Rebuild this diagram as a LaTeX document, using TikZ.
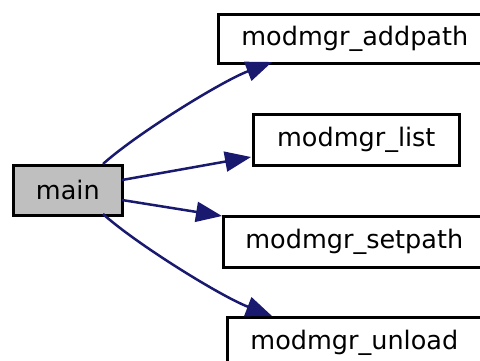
\documentclass[tikz,border=0pt]{standalone}
\usepackage{fontspec}
\setmainfont{DejaVu Sans}
\usetikzlibrary{arrows.meta}
\definecolor{edgeblue}{RGB}{25,25,112}
\definecolor{maingray}{RGB}{191,191,191}
\tikzset{
  fn/.style={draw=black, line width=2.6pt, fill=white, inner sep=0pt, anchor=north west,
    font=\fontsize{25.5}{30}\selectfont, text=black},
  call/.style={draw=edgeblue, line width=2.5pt,
    -{Triangle[length=26pt,width=20pt,fill=edgeblue]}}
}
\begin{document}
\begin{tikzpicture}[x=1pt,y=-1pt]
\useasboundingbox (0,0) rectangle (480,360);
\clip (0,0) rectangle (480,360);
\fill[white] (0,0) rectangle (480,360);
\node[fn, fill=maingray, minimum width=109pt, minimum height=50pt] (main) at (12,164) {main};
\node[fn, minimum width=273pt, minimum height=49pt] (addpath) at (217,13) {modmgr\_addpath};
\node[fn, minimum width=206pt, minimum height=51pt] (list) at (252,113) {modmgr\_list};
\node[fn, minimum width=262pt, minimum height=51pt] (setpath) at (222,215) {modmgr\_setpath};
\node[fn, minimum width=254pt, minimum height=51pt] (unload) at (226,316) {modmgr\_unload};
\coordinate (a0) at (103,164);
\coordinate (a1) at (272,62);
\coordinate (l0) at (122,180);
\coordinate (l1) at (251,157);
\coordinate (s0) at (122,200);
\coordinate (s1) at (222,216);
\coordinate (u0) at (103,214);
\coordinate (u1) at (272,316);
\draw[call] (a0) .. controls (135,135) and (220,82) .. (a1);
\draw[call] (l0) -- (l1);
\draw[call] (s0) -- (s1);
\draw[call] (u0) .. controls (135,243) and (220,296) .. (u1);
\end{tikzpicture}
\end{document}
